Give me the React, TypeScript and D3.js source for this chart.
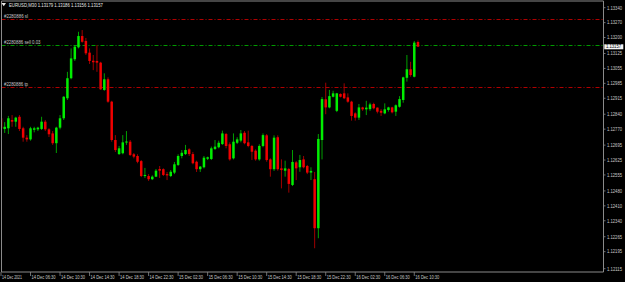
import React from "react";
import * as d3 from "d3";

const symbolTitle = "EURUSD,M30  1.13179 1.13186 1.13156 1.13157";

const opens = [1.12821,1.12771,1.12774,1.12813,1.12805,1.12828,1.12774,1.12730,1.12722,1.12767,1.12769,1.12771,1.12805,1.12769,1.12750,1.12704,1.12777,1.12821,1.12915,1.13009,1.13098,1.13154,1.13207,1.13184,1.13129,1.13091,1.13090,1.13082,1.12954,1.13004,1.12899,1.12719,1.12653,1.12657,1.12707,1.12711,1.12652,1.12644,1.12620,1.12550,1.12550,1.12535,1.12547,1.12583,1.12582,1.12559,1.12550,1.12566,1.12602,1.12644,1.12653,1.12675,1.12653,1.12617,1.12582,1.12591,1.12631,1.12630,1.12677,1.12685,1.12700,1.12747,1.12699,1.12633,1.12706,1.12716,1.12753,1.12708,1.12691,1.12669,1.12628,1.12691,1.12741,1.12628,1.12582,1.12732,1.12586,1.12575,1.12583,1.12508,1.12614,1.12591,1.12628,1.12597,1.12566,1.12535,1.12305,1.12719,1.12910,1.12872,1.12922,1.12856,1.12935,1.12938,1.12919,1.12899,1.12844,1.12824,1.12872,1.12863,1.12864,1.12888,1.12871,1.12856,1.12844,1.12860,1.12872,1.12852,1.12875,1.12907,1.13011,1.13051,1.13016,1.13179];
const highs = [1.12832,1.12803,1.12832,1.12836,1.12828,1.12836,1.12781,1.12742,1.12781,1.12781,1.12781,1.12828,1.12813,1.12774,1.12761,1.12781,1.12836,1.12925,1.13039,1.13149,1.13165,1.13227,1.13235,1.13198,1.13149,1.13118,1.13165,1.13086,1.13032,1.13013,1.12903,1.12742,1.12691,1.12742,1.12761,1.12719,1.12658,1.12652,1.12625,1.12588,1.12559,1.12553,1.12583,1.12597,1.12586,1.12569,1.12578,1.12616,1.12652,1.12672,1.12696,1.12680,1.12663,1.12622,1.12597,1.12644,1.12641,1.12688,1.12719,1.12716,1.12763,1.12752,1.12708,1.12750,1.12732,1.12766,1.12761,1.12763,1.12696,1.12675,1.12699,1.12750,1.12747,1.12633,1.12741,1.12741,1.12628,1.12622,1.12588,1.12672,1.12620,1.12649,1.12644,1.12602,1.12591,1.12569,1.12747,1.12921,1.12988,1.12954,1.12950,1.12940,1.12938,1.12985,1.12938,1.12903,1.12849,1.12888,1.12875,1.12903,1.12894,1.12894,1.12872,1.12864,1.12891,1.12875,1.12875,1.12886,1.12925,1.13016,1.13118,1.13086,1.13184,1.13186];
const lows = [1.12733,1.12752,1.12747,1.12781,1.12781,1.12761,1.12711,1.12711,1.12716,1.12755,1.12761,1.12766,1.12761,1.12733,1.12696,1.12658,1.12769,1.12813,1.12907,1.13004,1.13090,1.13149,1.13176,1.13118,1.13076,1.13047,1.13039,1.12954,1.12950,1.12894,1.12711,1.12663,1.12649,1.12652,1.12696,1.12644,1.12633,1.12610,1.12545,1.12541,1.12527,1.12531,1.12545,1.12541,1.12550,1.12531,1.12545,1.12559,1.12597,1.12633,1.12649,1.12644,1.12605,1.12569,1.12569,1.12586,1.12625,1.12625,1.12672,1.12680,1.12696,1.12680,1.12622,1.12628,1.12700,1.12708,1.12699,1.12685,1.12625,1.12622,1.12622,1.12685,1.12617,1.12547,1.12574,1.12575,1.12492,1.12547,1.12472,1.12503,1.12531,1.12570,1.12586,1.12559,1.12531,1.12211,1.12258,1.12628,1.12840,1.12868,1.12919,1.12850,1.12919,1.12911,1.12894,1.12810,1.12810,1.12813,1.12856,1.12836,1.12856,1.12863,1.12844,1.12832,1.12840,1.12852,1.12844,1.12832,1.12871,1.12894,1.12993,1.13016,1.13013,1.13156];
const closes = [1.12774,1.12781,1.12821,1.12805,1.12824,1.12771,1.12730,1.12722,1.12774,1.12774,1.12777,1.12805,1.12769,1.12746,1.12704,1.12777,1.12821,1.12922,1.13009,1.13102,1.13157,1.13207,1.13180,1.13126,1.13090,1.13084,1.13082,1.12957,1.13004,1.12899,1.12719,1.12672,1.12680,1.12708,1.12712,1.12649,1.12641,1.12617,1.12550,1.12555,1.12535,1.12547,1.12575,1.12575,1.12555,1.12553,1.12570,1.12605,1.12644,1.12659,1.12672,1.12653,1.12610,1.12582,1.12594,1.12636,1.12638,1.12680,1.12688,1.12706,1.12750,1.12691,1.12628,1.12711,1.12722,1.12750,1.12704,1.12691,1.12664,1.12628,1.12691,1.12742,1.12625,1.12582,1.12730,1.12582,1.12578,1.12586,1.12513,1.12616,1.12586,1.12625,1.12591,1.12566,1.12574,1.12305,1.12724,1.12911,1.12872,1.12925,1.12938,1.12938,1.12922,1.12915,1.12899,1.12832,1.12824,1.12872,1.12863,1.12871,1.12886,1.12868,1.12852,1.12847,1.12863,1.12872,1.12849,1.12882,1.12911,1.13013,1.13051,1.13024,1.13176,1.13157];

const priceTicks = [1.13340,1.13270,1.13200,1.13125,1.13055,1.12985,1.12915,1.12840,1.12770,1.12695,1.12625,1.12555,1.12480,1.12410,1.12340,1.12265,1.12195,1.12115];
const timeLabels = ["14 Dec 2021","14 Dec 06:30","14 Dec 10:30","14 Dec 14:30","14 Dec 18:30","14 Dec 22:30","15 Dec 02:30","15 Dec 06:30","15 Dec 10:30","15 Dec 14:30","15 Dec 18:30","15 Dec 22:30","16 Dec 02:30","16 Dec 06:30","16 Dec 10:30"];
const timeLabelEvery = 8;

const orderLevels = [
  { label: "#2280886 sl", price: 1.13285, kind: "sl" },
  { label: "#2280886 sell 0.03", price: 1.13163, kind: "open" },
  { label: "#2280886 tp", price: 1.12966, kind: "tp" },
];
const currentPrice = 1.13157;

const W = 625, H = 282;
const plotLeft = 1.5, plotRight = 603.5, plotTop = 1, plotBottom = 272;
const font = "'Liberation Sans', Arial, sans-serif";

export default function App() {
  const n = opens.length;
  const x = d3.scaleLinear().domain([0, n - 1]).range([1, 1 + 3.69 * (n - 1)]);
  const y = d3.scaleLinear().domain([1.12115, 1.1334]).range([268.7, 7.7]);
  const bodyW = 2.5;
  const bars = d3.range(n);

  return (
    <svg width={W} height={H} style={{ position: "absolute", left: 0, top: 0, background: "#000" }}>
      <rect x={0} y={0} width={W} height={H} fill="#000" />
      <defs>
        <clipPath id="plot">
          <rect x={plotLeft} y={plotTop} width={plotRight - plotLeft} height={plotBottom - plotTop} />
        </clipPath>
      </defs>
      {/* order lines */}
      {orderLevels.map((o) => {
        const ly = Math.floor(y(o.price)) + 0.5;
        return (
          <g key={o.label}>
            <line x1={plotLeft} x2={plotRight} y1={ly} y2={ly}
              stroke={o.kind === "open" ? "#009a00" : "#b00000"} strokeWidth={1.2}
              strokeDasharray="4,2,1,2" />
            <text x={4} y={ly - 2} fill="#c8c8c8" fontSize={5} fontFamily={font}
              textLength={o.kind === "open" ? 36.5 : 24} lengthAdjust="spacingAndGlyphs">{o.label}</text>
          </g>
        );
      })}
      {/* candles */}
      <g clipPath="url(#plot)">
        {bars.map((i) => {
          const bull = closes[i] >= opens[i];
          const cx = x(i);
          const top = y(Math.max(opens[i], closes[i]));
          const bot = y(Math.min(opens[i], closes[i]));
          return (
            <g key={i}>
              <line x1={cx} x2={cx} y1={y(highs[i])} y2={y(lows[i])}
                stroke={bull ? "#00b000" : "#b00000"} strokeWidth={0.9} />
              <rect x={cx - bodyW / 2} y={top} width={bodyW} height={Math.max(0.8, bot - top)}
                fill={bull ? "#00ee00" : "#f00000"} />
            </g>
          );
        })}
      </g>
      {/* frame */}
      <line x1={plotLeft} x2={plotLeft} y1={plotTop} y2={plotBottom} stroke="#8a8a8a" strokeWidth={1} />
      <line x1={plotLeft} x2={plotRight} y1={plotTop} y2={plotTop} stroke="#8a8a8a" strokeWidth={1} />
      <line x1={plotRight} x2={plotRight} y1={plotTop} y2={plotBottom} stroke="#8a8a8a" strokeWidth={1} />
      <line x1={plotLeft} x2={plotRight} y1={plotBottom} y2={plotBottom} stroke="#8a8a8a" strokeWidth={1} />
      {/* price axis */}
      {priceTicks.map((p) => (
        <g key={p}>
          <line x1={plotRight} x2={plotRight + 2} y1={y(p)} y2={y(p)} stroke="#8a8a8a" strokeWidth={0.8} />
          <text x={607} y={y(p) + 1.8} fill="#c8c8c8" fontSize={5} fontFamily={font}
            textLength={15} lengthAdjust="spacingAndGlyphs">{p.toFixed(5)}</text>
        </g>
      ))}
      <rect x={604.3} y={y(currentPrice) - 2.4} width={19} height={5} fill="#f4f4f4" />
      <text x={606} y={y(currentPrice) + 1.8} fill="#000" fontSize={5} fontFamily={font}
        textLength={15} lengthAdjust="spacingAndGlyphs">{currentPrice.toFixed(5)}</text>
      {/* time axis */}
      {timeLabels.map((t, k) => {
        const tx = x(k * timeLabelEvery);
        return (
          <g key={t}>
            <line x1={tx} x2={tx} y1={plotBottom} y2={plotBottom + 4} stroke="#8a8a8a" strokeWidth={0.8} />
            <text x={tx + 1} y={278.6} fill="#c8c8c8" fontSize={5} fontFamily={font}
              textLength={k === 0 ? 20 : 24} lengthAdjust="spacingAndGlyphs">{t}</text>
          </g>
        );
      })}
      {/* header */}
      <polygon points="1.5,3 6,3 3.75,6.3" fill="#e8e8e8" />
      <text x={9} y={6.8} fill="#e8e8e8" fontSize={5.2} fontFamily={font}
        textLength={94} lengthAdjust="spacingAndGlyphs">{symbolTitle}</text>
    </svg>
  );
}
